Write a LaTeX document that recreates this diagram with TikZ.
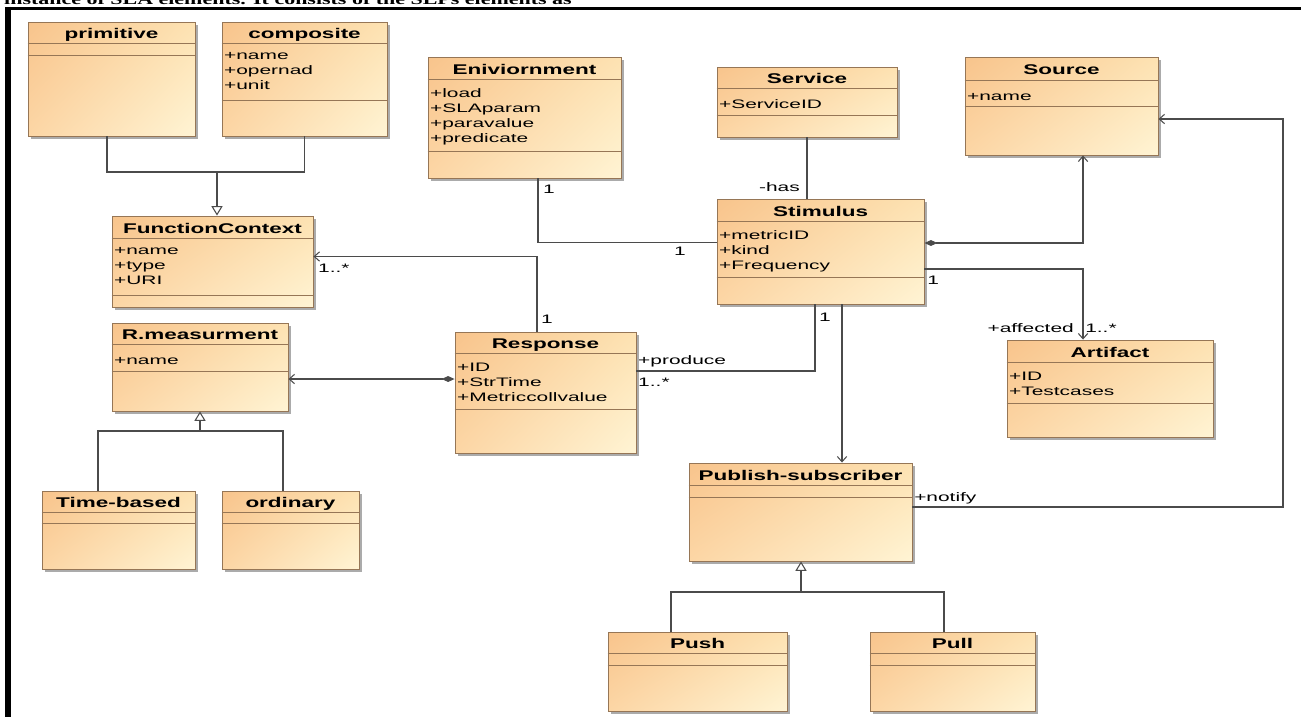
\documentclass[tikz,border=0pt]{standalone}
\usepackage{fontspec}
\usepackage{xcolor}
\usepackage{tikz}
\usetikzlibrary{positioning,arrows.meta,calc,fit,shadows,shadings}
\newfontfamily\umlattrfont{Liberation Sans}[FakeStretch=1.7]
\newfontfamily\umltitlefont{Liberation Sans}[FakeStretch=1.6]
\newfontfamily\headfont{Liberation Serif}[FakeStretch=1.5]
\definecolor{umlborder}{RGB}{150,118,86}
\definecolor{umlwarm}{RGB}{248,196,140}
\definecolor{umlmid}{RGB}{253,226,178}
\definecolor{umlmidlow}{RGB}{252,214,165}
\definecolor{umllight}{RGB}{255,244,212}
\definecolor{conncolor}{RGB}{75,75,75}
\tikzset{
  umlclass/.style={draw=umlborder,line width=0.8pt,inner sep=0pt,
    shade,upper left=umlwarm,upper right=umlmid,
    lower left=umlmidlow,lower right=umllight,
    drop shadow={shadow xshift=2.5pt,shadow yshift=-2.5pt,fill=black!55,opacity=0.6}},
  umldiv/.style={draw=umlborder,line width=0.7pt},
  umltitle/.style={font=\umltitlefont\bfseries\fontsize{12}{14}\selectfont,
    text height=8.6pt,text depth=0pt,inner sep=0pt},
  umlattr/.style={anchor=north west,align=left,inner xsep=2pt,inner ysep=7.5pt,
    font=\umlattrfont\fontsize{10.5}{12.8}\selectfont,
    execute at begin node=\strut},
  mult/.style={font=\umlattrfont\fontsize{10.5}{12.8}\selectfont,
    text height=7.5pt,text depth=0pt,inner sep=0pt},
  conn/.style={draw=conncolor,line width=0.9pt},
  assoc/.style={conn,-{Straight Barb[length=4.5pt,width=8pt]}},
  compose/.style={conn,{Diamond[length=11pt,width=5pt,fill=conncolor]}-{Straight Barb[length=4.5pt,width=8pt]}},
  generalize/.style={conn,-{Triangle[open,length=8pt,width=9.5pt,fill=white]}},
  frameline/.style={draw=black}
}
% name, corner, corner, title, title rule, attribute rule, attributes
\newcommand{\umlclass}[7]{%
  \node[umlclass,fit={#2 #3}] (#1) {};
  \draw[umldiv] ($(#1.north west)+(0,#5)$) -- ($(#1.north east)+(0,#5)$);
  \draw[umldiv] ($(#1.north west)+(0,#6)$) -- ($(#1.north east)+(0,#6)$);
  \node[umltitle] (#1-title) at ($(#1.north)+(0,#5/2+1)$) {#4};
  \node[umlattr] (#1-attr) at ($(#1.north west)+(0,#5)$) {#7};
}

\begin{document}
\begin{tikzpicture}[x=0.03cm,y=-0.03cm]
      \useasboundingbox (0,0) rectangle (1301,717);
      \clip (0,0) rectangle (1301,717);
      \fill[white] (0,0) rectangle (1301,717);
      \node[anchor=base west,inner sep=0pt,font=\headfont\bfseries\fontsize{12.5}{14}\selectfont] (headline) at (4,4)
        {instance of SLA elements. It consists of the SLPs elements as};

      \umlclass{prim}{(28,22)}{(195,136)}{primitive}{22}{34}{}
      \umlclass{comp}{(222,22)}{(387,136)}{composite}{22}{79}{+name\\+opernad\\+unit}
      \umlclass{fctx}{(112,216)}{(313,307)}{FunctionContext}{23}{80}{+name\\+type\\+URI}
      \umlclass{env}{(428,57)}{(621,178)}{Eniviornment}{23}{95}{+load\\+SLAparam\\+paravalue\\+predicate}
      \umlclass{serv}{(717,67)}{(897,137)}{Service}{22}{49}{+ServiceID}
      \umlclass{src}{(965,57)}{(1158,155)}{Source}{24}{50}{+name}
      \umlclass{stim}{(717,199)}{(924,304)}{Stimulus}{23}{79}{+metricID\\+kind\\+Frequency}
      \umlclass{rmeas}{(112,323)}{(288,411)}{R.measurment}{22}{49}{+name}
      \umlclass{resp}{(455,332)}{(636,453)}{Response}{22}{78}{+ID\\+StrTime\\+Metriccollvalue}
      \umlclass{art}{(1007,340)}{(1213,437)}{Artifact}{23}{64}{+ID\\+Testcases}
      \umlclass{tb}{(42,491)}{(195,569)}{Time-based}{22}{33}{}
      \umlclass{ord}{(222,491)}{(359,569)}{ordinary}{22}{33}{}
      \umlclass{pub}{(689,463)}{(912,561)}{Publish-subscriber}{23}{35}{}
      \umlclass{push}{(608,632)}{(787,711)}{Push}{22}{34}{}
      \umlclass{pull}{(870,632)}{(1035,711)}{Pull}{22}{34}{}

      \coordinate (fcjoin) at (217,172);
      \draw[conn] ($(prim.south)+(-4.5,0)$) |- (fcjoin);
      \draw[conn] (comp.south) |- (fcjoin);
      \draw[generalize] (fcjoin) -- (fcjoin |- fctx.north);

      \draw[assoc] ($(resp.north)+(-8.5,0)$) |- ($(fctx.east)+(0,-5)$);
      \node[mult,anchor=west] (fctx-mult) at (318,268) {1..*};
      \node[mult,anchor=west] (resp-mult) at (541,319) {1};

      \draw[conn] ($(env.south)+(13.5,0)$) |- ($(stim.west)+(0,-9)$);
      \node[mult,anchor=west] (env-mult) at (543,189) {1};
      \node[mult] (stimw-mult) at (680,251) {1};

      \draw[conn] (serv.south) -- (serv.south |- stim.north);
      \node[mult,anchor=east] (has) at (800,187) {-has};

      \draw[compose] ($(stim.east)+(0,-8.5)$) -| ($(src.south)+(21.5,0)$);
      \draw[assoc] ($(stim.east)+(0,17.5)$) -| ($(art.north)+(-27,0)$);
      \node[mult,anchor=west] (stime-mult) at (927,280) {1};
      \node[mult,anchor=east] (affected) at (1074,328) {+affected};
      \node[mult,anchor=west] (art-mult) at (1085,328) {1..*};

      \draw[conn] ($(resp.east)+(0,-21.5)$) -| ($(stim.south)+(-5.5,0)$);
      \node[mult,anchor=west] (produce) at (638,360) {+produce};
      \node[mult,anchor=west] (prod-mult) at (638,382) {1..*};
      \node[mult,anchor=west] (stims-mult) at (819,317) {1};

      \coordinate (stimout) at ($(stim.south)+(21.5,0)$);
      \draw[assoc] (stimout) -- (stimout |- pub.north);

      \coordinate (notifybend) at (1283,119);
      \draw[assoc] ($(pub.east)+(0,-5)$) -| (notifybend) -- ($(src.east)+(0,13)$);
      \node[mult,anchor=west] (notify) at (914,497) {+notify};

      \coordinate (respin) at ($(resp.west)+(0,-13.5)$);
      \draw[compose] (respin) -- (respin -| rmeas.east);

      \coordinate (rmjoin) at (200,431);
      \draw[conn] ($(tb.north)+(-20.5,0)$) |- (rmjoin);
      \draw[conn] ($(ord.north)+(-7.5,0)$) |- (rmjoin);
      \draw[generalize] (rmjoin) -- (rmjoin |- rmeas.south);

      \coordinate (pubjoin) at (801,592);
      \draw[conn] ($(push.north)+(-26.5,0)$) |- (pubjoin);
      \draw[conn] ($(pull.north)+(-8.5,0)$) |- (pubjoin);
      \draw[generalize] (pubjoin) -- (pubjoin |- pub.south);

      \draw[frameline,line width=2.8pt] (5,8.3) -- (1301,8.3);
      \draw[frameline,line width=4.3pt] (8,6.7) -- (8,717);
\end{tikzpicture}
\end{document}
